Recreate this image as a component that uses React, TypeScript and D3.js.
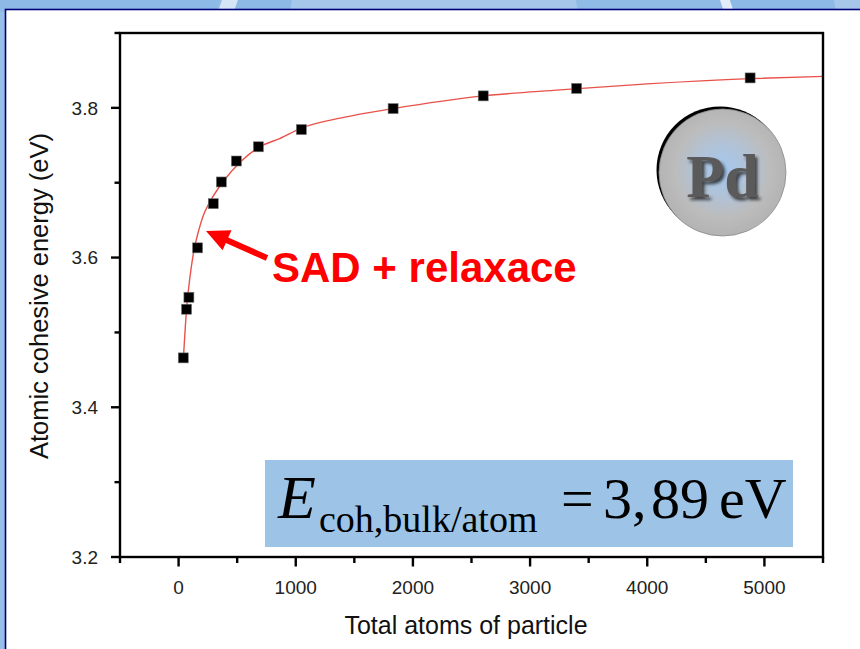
import React from 'react';
import * as d3 from 'd3';

// cluster data
const atomCounts = [40, 68, 88, 162, 296, 365, 493, 681, 1048, 1831, 2600, 3397, 4878];
const cohesiveEnergy = [3.466, 3.531, 3.547, 3.613, 3.672, 3.701, 3.729, 3.748, 3.771, 3.799, 3.816, 3.826, 3.84];

// red fitted curve, sampled from the figure
const fitAtoms = [43, 68, 94, 128, 173, 208, 259, 378, 536, 692, 863, 1048, 1400, 1831, 2600, 3255, 4000, 4878, 5500];
const fitEnergy = [3.47, 3.531, 3.57, 3.607, 3.637, 3.655, 3.672, 3.701, 3.729, 3.748, 3.759, 3.773, 3.787, 3.799, 3.816, 3.824, 3.832, 3.839, 3.842];

const xMajorTicks = [0, 1000, 2000, 3000, 4000, 5000];
const xMinorTicks = [-500, 500, 1500, 2500, 3500, 4500, 5500];
const yMajorTicks = [3.2, 3.4, 3.6, 3.8];
const yMinorTicks = [3.3, 3.5, 3.7, 3.9];

const W = 860;
const H = 649;
const plot = { left: 120, right: 823, top: 33, bottom: 557 };

const sans = 'Liberation Sans, Arial, Helvetica, sans-serif';
const serif = 'Liberation Serif, Times New Roman, serif';

export default function App() {
  const x = d3.scaleLinear().domain([-500, 5500]).range([plot.left, plot.right]);
  const y = d3.scaleLinear().domain([3.2, 3.9]).range([plot.bottom, plot.top]);

  const points = atomCounts.map((n, i) => [n, cohesiveEnergy[i]] as [number, number]);
  const fit = fitAtoms.map((n, i) => [n, fitEnergy[i]] as [number, number]);
  const line = d3.line<[number, number]>()
    .x(d => x(d[0]))
    .y(d => y(d[1]))
    .curve(d3.curveMonotoneX);

  // arrow pointing at the curve
  const tip = [206, 231];
  const tail = [267, 258];
  const ang = Math.atan2(tail[1] - tip[1], tail[0] - tip[0]);
  const headLen = 23, headW = 11, shaftW = 3;
  const ux = Math.cos(ang), uy = Math.sin(ang);
  const px = -uy, py = ux;
  const hb = [tip[0] + ux * headLen, tip[1] + uy * headLen];
  const arrowPts = [
    tip,
    [hb[0] + px * headW, hb[1] + py * headW],
    [hb[0] + px * shaftW, hb[1] + py * shaftW],
    [tail[0] + px * shaftW, tail[1] + py * shaftW],
    [tail[0] - px * shaftW, tail[1] - py * shaftW],
    [hb[0] - px * shaftW, hb[1] - py * shaftW],
    [hb[0] - px * headW, hb[1] - py * headW],
  ].map(p => p.join(',')).join(' ');

  const pd = { cx: 722.5, cy: 172.5, r: 63.5 };

  return (
    <svg width={W} height={H} style={{ position: 'absolute', left: 0, top: 0 }}>
      <defs>
        <radialGradient id="pdGrad" cx="50%" cy="48%" r="50%">
          <stop offset="0%" stopColor="#a4c7f0" />
          <stop offset="45%" stopColor="#b2c2d4" />
          <stop offset="75%" stopColor="#bcbcbc" />
          <stop offset="100%" stopColor="#b4b4b4" />
        </radialGradient>
        <filter id="shadow" x="-20%" y="-20%" width="140%" height="140%">
          <feDropShadow dx="2.5" dy="3" stdDeviation="1.6" floodColor="#222" floodOpacity="0.8" />
        </filter>
        <filter id="edge" x="-20%" y="-20%" width="140%" height="140%">
          <feGaussianBlur stdDeviation="0.6" />
        </filter>
      </defs>

      {/* slide background */}
      <rect x={0} y={0} width={W} height={H} fill="#98bfe7" />
      <polygon points="0,0 220,0 216,12 0,12" fill="#8cb9e6" />
      <polygon points="222,0 238,0 234,12 218,12" fill="#d4e5f6" />
      <polygon points="238,0 292,0 290,12 234,12" fill="#8db9e6" />
      <polygon points="292,0 576,0 578,12 290,12" fill="#a6c7ea" />
      <polygon points="576,0 720,0 724,12 578,12" fill="#90bbe6" />
      <polygon points="720,0 730,0 734,12 724,12" fill="#e2edf8" />
      <polygon points="730,0 834,0 836,12 734,12" fill="#8cb9e6" />
      <polygon points="834,0 860,0 860,12 836,12" fill="#a6c7ea" />
      <rect x={5.5} y={9.5} width={900} height={700} fill="#ffffff" stroke="#00007a" strokeWidth={1.6} />

      {/* formula box */}
      <rect x={265} y={460} width={528} height={87} fill="#9dc3e6" />
      <text fontFamily={serif} fill="#000">
        <tspan x={278} y={518} fontSize={62} fontStyle="italic">E</tspan>
        <tspan x={319} y={532} fontSize={38}>coh,bulk/atom</tspan>
        <tspan x={561} y={518} fontSize={58}>=</tspan>
        <tspan x={603} y={518} fontSize={58}>3,</tspan>
        <tspan x={651} y={518} fontSize={58}>89</tspan>
        <tspan x={719} y={518} fontSize={58}>eV</tspan>
      </text>

      {/* Pd badge */}
      <circle cx={pd.cx - 2.5} cy={pd.cy - 2.5} r={pd.r} fill="#000" filter="url(#edge)" />
      <circle cx={pd.cx} cy={pd.cy} r={pd.r} fill="url(#pdGrad)" stroke="#8a8a8a" strokeWidth={0.8} />
      <text x={pd.cx} y={197} textAnchor="middle" fontFamily={serif} fontWeight="bold"
        fontSize={62} fill="#5a5a5a" filter="url(#shadow)">Pd</text>

      {/* fit curve */}
      <path d={line(fit) || ''} fill="none" stroke="#e5332a" strokeWidth={1.4} strokeOpacity={0.85} />

      {/* data points */}
      {points.map((d, i) => (
        <rect key={i} x={x(d[0]) - 5} y={y(d[1]) - 5} width={10} height={10}
          fill="#000" stroke="#777" strokeWidth={0.6} />
      ))}

      {/* frame */}
      <rect x={plot.left} y={plot.top} width={plot.right - plot.left} height={plot.bottom - plot.top}
        fill="none" stroke="#000" strokeWidth={2.4} />

      {/* y axis ticks */}
      {yMajorTicks.map(t => (
        <g key={'ym' + t}>
          <line x1={plot.left - 9} x2={plot.left} y1={y(t)} y2={y(t)} stroke="#000" strokeWidth={2.4} />
          <text x={98} y={y(t)} dy="0.36em" textAnchor="end" fontFamily={sans} fontSize={19} fill="#222">
            {d3.format('.1f')(t)}
          </text>
        </g>
      ))}
      {yMinorTicks.map(t => (
        <line key={'yn' + t} x1={plot.left - 5.5} x2={plot.left} y1={y(t)} y2={y(t)} stroke="#000" strokeWidth={2.4} />
      ))}

      {/* x axis ticks */}
      {xMajorTicks.map(t => (
        <g key={'xm' + t}>
          <line x1={x(t)} x2={x(t)} y1={plot.bottom} y2={plot.bottom + 9.5} stroke="#000" strokeWidth={2.4} />
          <text x={x(t)} y={594} textAnchor="middle" fontFamily={sans} fontSize={19} fill="#222">{t}</text>
        </g>
      ))}
      {xMinorTicks.map(t => (
        <line key={'xn' + t} x1={x(t)} x2={x(t)} y1={plot.bottom} y2={plot.bottom + 6} stroke="#000" strokeWidth={2.4} />
      ))}

      {/* axis titles */}
      <text x={466} y={634} textAnchor="middle" fontFamily={sans} fontSize={25} fill="#111">
        Total atoms of particle
      </text>
      <text transform="translate(48,296) rotate(-90)" textAnchor="middle" fontFamily={sans} fontSize={25.5} fill="#111">
        Atomic cohesive energy (eV)
      </text>

      {/* annotation */}
      <polygon points={arrowPts} fill="#ff0000" />
      <text x={272} y={282} fontFamily={sans} fontWeight="bold" fontSize={42} fill="#ff0000">
        SAD + relaxace
      </text>
    </svg>
  );
}
